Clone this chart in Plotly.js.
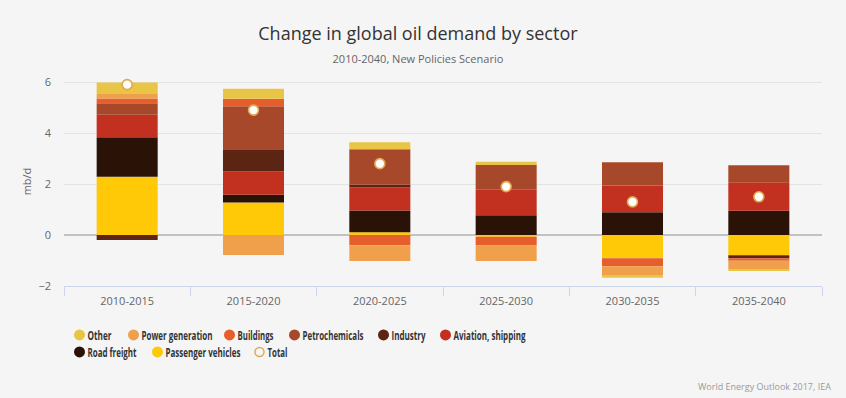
<!DOCTYPE html>
<html>
<head>
<meta charset="utf-8">
<script src="https://cdn.plot.ly/plotly-3.0.1.min.js"></script>
<style>
html,body{margin:0;padding:0;background:#F5F5F5;}
#chart{width:846px;height:398px;}
</style>
</head>
<body>
<div id="chart"></div>
<script>
const categories = ['2010-2015','2015-2020','2020-2025','2025-2030','2030-2035','2035-2040'];
const passengerVehicles = [2.29, 1.28, 0.11, -0.07, -0.91, -0.79];
const roadFreight = [1.55, 0.30, 0.85, 0.78, 0.89, 0.95];
const aviationShipping = [0.88, 0.91, 0.91, 1.00, 1.05, 1.12];
const industry = [-0.20, 0.88, 0.10, 0, 0, -0.12];
const petrochemicals = [0.45, 1.68, 1.40, 0.97, 0.92, 0.67];
const buildings = [0.19, 0.30, -0.40, -0.34, -0.32, -0.10];
const powerGeneration = [0.17, -0.78, -0.62, -0.61, -0.37, -0.32];
const other = [0.45, 0.39, 0.27, 0.12, -0.08, -0.08];
const total = [5.9, 4.9, 2.8, 1.9, 1.3, 1.5];

const seriesNames = ['Passenger vehicles','Road freight','Aviation, shipping','Industry','Petrochemicals','Buildings','Power generation','Other'];
const seriesValues = [passengerVehicles, roadFreight, aviationShipping, industry, petrochemicals, buildings, powerGeneration, other];
const seriesColors = ['#FFC907','#2B1206','#C2301F','#5B2413','#A8482A','#E55E2B','#F0A04B','#E8C547'];
const totalColor = '#E2A84E';

const traces = [];
seriesNames.forEach((n, i) => {
  traces.push({
    type: 'bar', name: n, x: categories, y: seriesValues[i],
    marker: {color: seriesColors[i], line: {width: 0}},
    showlegend: false, legendgroup: n
  });
});
traces.push({
  type: 'scatter', mode: 'markers', name: 'Total', x: categories, y: total,
  marker: {symbol: 'circle', size: 10, color: '#FFFFFF', line: {color: totalColor, width: 1.6}},
  showlegend: false, legendgroup: 'Total'
});

// legend entries (circles), in the reference's order; one small legend per entry
const legendOrder = ['Other','Power generation','Buildings','Petrochemicals','Industry','Aviation, shipping','Road freight','Passenger vehicles','Total'];
const legendMarkerX = [78, 132, 228, 293, 382, 444, 78, 156, 258];
const legendRowY = [335, 335, 335, 335, 335, 335, 352, 352, 352];
const legendTextWidth = [24, 71, 36, 61, 34, 72, 49, 75, 20];

const legendFont = {family: '"Open Sans", sans-serif', size: 13, color: '#333333', weight: 'bold'};
const layoutLegends = {};
legendOrder.forEach((n, k) => {
  const key = k === 0 ? 'legend' : 'legend' + (k + 1);
  layoutLegends[key] = {
    orientation: 'h', xref: 'container', yref: 'container',
    x: (legendMarkerX[k] - 18.5) / 846, y: (398 - legendRowY[k]) / 398,
    xanchor: 'left', yanchor: 'middle',
    font: legendFont, bgcolor: 'rgba(0,0,0,0)', itemclick: false, itemdoubleclick: false
  };
  if (n === 'Total') {
    traces.push({
      type: 'scatter', mode: 'markers', name: n, x: [null], y: [null],
      marker: {symbol: 'circle-open', size: 9, color: totalColor, line: {width: 1.5, color: totalColor}},
      legendgroup: n, legend: key, hoverinfo: 'skip'
    });
  } else {
    traces.push({
      type: 'scatter', mode: 'markers', name: n, x: [null], y: [null],
      marker: {symbol: 'circle', size: 11, color: seriesColors[seriesNames.indexOf(n)]},
      legendgroup: n, legend: key, hoverinfo: 'skip'
    });
  }
});

const layout = Object.assign({
  width: 846, height: 398,
  paper_bgcolor: '#F5F5F5', plot_bgcolor: '#F5F5F5',
  font: {family: '"Open Sans", sans-serif', color: '#666666', size: 11},
  margin: {l: 64, r: 24, t: 77, b: 112},
  barmode: 'relative', bargap: 0.517,
  title: {
    text: 'Change in global oil demand by sector<br><span style="font-size:11px;color:#666666">2010-2040, New Policies Scenario</span>',
    font: {family: '"Open Sans", sans-serif', size: 18, color: '#333333'},
    x: 0.494, xanchor: 'center', y: 0.9, yanchor: 'top', xref: 'container', yref: 'container'
  },
  xaxis: {
    type: 'category', showline: true, linecolor: '#CCD6EB', linewidth: 1,
    ticks: 'outside', tickson: 'boundaries', ticklen: 9, tickcolor: '#CCD6EB',
    ticklabelstandoff: 5,
    showgrid: false, tickfont: {size: 11, color: '#666666'}, fixedrange: true
  },
  yaxis: {
    range: [-2, 6.2], dtick: 2, tick0: 0, showgrid: true, gridcolor: '#E3E3E3', gridwidth: 1,
    zeroline: true, zerolinecolor: '#C2C2C2', zerolinewidth: 1.6,
    showline: false, ticks: '', ticklabelstandoff: 12,
    tickfont: {size: 11, color: '#666666'},
    title: {text: 'mb/d', font: {size: 11, color: '#666666'}, standoff: 4},
    fixedrange: true
  },
  showlegend: true,
  annotations: [{
    text: 'World Energy Outlook 2017, IEA', xref: 'paper', yref: 'paper', x: 1.014, y: -0.481,
    xanchor: 'right', yanchor: 'middle', showarrow: false,
    font: {family: '"Open Sans", sans-serif', size: 9, color: '#999999'}
  }]
}, layoutLegends);

// condense legend labels like the reference's narrow bold face, and pull them nearer their symbol
function condenseLegendText() {
  document.querySelectorAll('#chart svg text').forEach(t => {
    const cls = t.getAttribute('class') || '';
    if (!/^legend\d*text$/.test(cls)) return;
    const k = legendOrder.indexOf(t.textContent.trim());
    if (k < 0) return;
    if (t.getAttribute('x') !== '28') t.setAttribute('x', '28');
    if (t.getAttribute('textLength') !== String(legendTextWidth[k])) {
      t.setAttribute('textLength', legendTextWidth[k]);
      t.setAttribute('lengthAdjust', 'spacingAndGlyphs');
    }
  });
}

const gd = document.getElementById('chart');
Plotly.newPlot(gd, traces, layout, {displayModeBar: false, staticPlot: true}).then(() => {
  condenseLegendText();
  gd.on('plotly_afterplot', condenseLegendText);
});
</script>
</body>
</html>
